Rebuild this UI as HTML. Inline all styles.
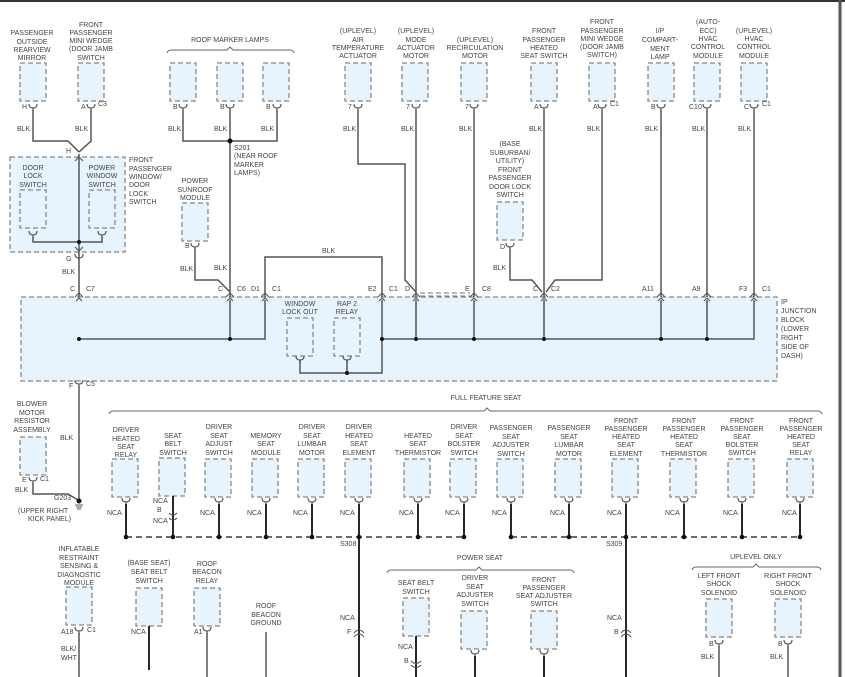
<!DOCTYPE html>
<html><head><meta charset="utf-8"><style>
html,body{margin:0;padding:0;background:#fff;}
svg{display:block;}
text{font-family:"Liberation Sans",sans-serif;font-size:7px;fill:#444;}
.w{stroke:#555;stroke-width:1.5;fill:none;}
.k{stroke:#111;stroke-width:1.8;fill:none;}
.bx{fill:#e8f4fd;stroke:#888;stroke-width:1.3;stroke-dasharray:5 3;}
.br{stroke:#666;stroke-width:1;fill:none;}
</style></head><body>
<svg width="845" height="677" viewBox="0 0 845 677" xmlns="http://www.w3.org/2000/svg">
<defs>
<rect id="b" x="0" y="0" width="26" height="38" class="bx"/>
<path id="pd" d="M-4,-2 Q-4,2 0,2 Q4,2 4,-2 M0,2 V5" stroke="#555" stroke-width="1.2" fill="none"/>
<path id="pu" d="M-4,2 L0,-2 L4,2 M-3,6 L0,3 L3,6" stroke="#555" stroke-width="1.1" fill="none"/>
</defs>
<line x1="0" y1="1" x2="845" y2="1" stroke="#333" stroke-width="2"/>
<line x1="840" y1="0" x2="840" y2="677" stroke="#555" stroke-width="3"/>

<!-- IP junction block -->
<rect x="21" y="297" width="756" height="84" class="bx"/>
<text x="781" y="304">IP</text><text x="781" y="313">JUNCTION</text><text x="781" y="322">BLOCK</text><text x="781" y="331">(LOWER</text><text x="781" y="340">RIGHT</text><text x="781" y="349">SIDE OF</text><text x="781" y="358">DASH)</text>

<!-- top left group -->
<g text-anchor="middle">
<text x="32" y="35">PASSENGER</text><text x="32" y="44">OUTSIDE</text><text x="32" y="52">REARVIEW</text><text x="32" y="60">MIRROR</text>
<text x="91" y="27">FRONT</text><text x="91" y="35">PASSENGER</text><text x="91" y="43">MINI WEDGE</text><text x="91" y="51">(DOOR JAMB</text><text x="91" y="60">SWITCH</text>
</g>
<use href="#b" x="20" y="63"/><use href="#b" x="78" y="63"/>
<use href="#pd" x="33" y="106"/><use href="#pd" x="91" y="106"/>
<text x="22" y="109">H</text><text x="81" y="109">A</text><text x="98" y="106">C3</text>
<path class="w" d="M33,110 V141 H68 L79,152 M91,110 V141 L79,152"/>
<text x="17" y="131">BLK</text><text x="75" y="131">BLK</text>
<text x="66" y="153">H</text>
<rect x="10" y="157" width="115" height="95" class="bx"/>
<text x="129" y="162">FRONT</text><text x="129" y="171">PASSENGER</text><text x="129" y="179">WINDOW/</text><text x="129" y="187">DOOR</text><text x="129" y="196">LOCK</text><text x="129" y="204">SWITCH</text>
<g text-anchor="middle"><text x="33" y="170">DOOR</text><text x="33" y="178">LOCK</text><text x="33" y="187">SWITCH</text>
<text x="102" y="170">POWER</text><text x="102" y="178">WINDOW</text><text x="102" y="187">SWITCH</text></g>
<use href="#b" x="20" y="190"/><use href="#b" x="89" y="190"/>
<use href="#pd" x="33" y="233"/><use href="#pd" x="102" y="233"/>
<path class="w" d="M79,154 V297 M33,237 V242 H102 V237"/>
<path d="M75,161 L79,157 L83,161 M75,247 L79,251 L83,247" stroke="#555" stroke-width="1.1" fill="none"/>
<circle cx="79" cy="242" r="2" fill="#111"/>
<use href="#pd" x="79" y="256"/>
<text x="66" y="261">G</text><text x="62" y="274">BLK</text><text x="70" y="291">C</text><text x="86" y="291">C7</text>
<use href="#pu" x="79" y="295"/>

<!-- roof marker -->
<text x="230" y="42" text-anchor="middle">ROOF MARKER LAMPS</text>
<path class="br" d="M167,53 Q168,50 171,50 H227 L230,47 L233,50 H290 Q293,50 294,53"/>
<use href="#b" x="170" y="63"/><use href="#b" x="217" y="63"/><use href="#b" x="263" y="63"/>
<use href="#pd" x="183" y="106"/><use href="#pd" x="230" y="106"/><use href="#pd" x="277" y="106"/>
<text x="173" y="109">B</text><text x="220" y="109">B</text><text x="266" y="109">B</text>
<path class="w" d="M183,110 V141 H277 V110 M230,110 V297"/>
<circle cx="230" cy="141" r="2.5" fill="#111"/>
<text x="168" y="131">BLK</text><text x="214" y="131">BLK</text><text x="261" y="131">BLK</text>
<text x="234" y="150">S201</text><text x="234" y="158">(NEAR ROOF</text><text x="234" y="167">MARKER</text><text x="234" y="175">LAMPS)</text>
<g text-anchor="middle"><text x="195" y="183">POWER</text><text x="195" y="192">SUNROOF</text><text x="195" y="200">MODULE</text></g>
<use href="#b" x="182" y="203"/><use href="#pd" x="195" y="245"/>
<text x="185" y="248">B</text>
<path class="w" d="M195,249 V280 H218 L230,292"/>
<text x="180" y="271">BLK</text><text x="214" y="270">BLK</text>
<text x="218" y="291">C</text><text x="237" y="291">C6</text>
<use href="#pu" x="230" y="295"/>
<path class="w" d="M265,297 V257 H382 V297"/>
<text x="322" y="253">BLK</text>
<text x="251" y="291">D1</text><text x="272" y="291">C1</text><text x="368" y="291">E2</text><text x="389" y="291">C1</text>
<use href="#pu" x="265" y="295"/><use href="#pu" x="382" y="295"/>

<!-- top middle/right -->
<g text-anchor="middle">
<text x="358" y="33">(UPLEVEL)</text><text x="358" y="42">AIR</text><text x="358" y="50">TEMPERATURE</text><text x="358" y="58">ACTUATOR</text>
<text x="416" y="33">(UPLEVEL)</text><text x="416" y="42">MODE</text><text x="416" y="50">ACTUATOR</text><text x="416" y="58">MOTOR</text>
<text x="475" y="42">(UPLEVEL)</text><text x="475" y="50">RECIRCULATION</text><text x="475" y="58">MOTOR</text>
<text x="544" y="33">FRONT</text><text x="544" y="42">PASSENGER</text><text x="544" y="50">HEATED</text><text x="544" y="58">SEAT SWITCH</text>
<text x="602" y="24">FRONT</text><text x="602" y="33">PASSENGER</text><text x="602" y="41">MINI WEDGE</text><text x="602" y="49">(DOOR JAMB</text><text x="602" y="57">SWITCH)</text>
<text x="660" y="33">I/P</text><text x="660" y="42">COMPART-</text><text x="660" y="51">MENT</text><text x="660" y="59">LAMP</text>
<text x="708" y="24">(AUTO-</text><text x="708" y="33">ECC)</text><text x="708" y="41">HVAC</text><text x="708" y="49">CONTROL</text><text x="708" y="58">MODULE</text>
<text x="754" y="33">(UPLEVEL)</text><text x="754" y="41">HVAC</text><text x="754" y="49">CONTROL</text><text x="754" y="58">MODULE</text>
<text x="510" y="146">(BASE</text><text x="510" y="155">SUBURBAN/</text><text x="510" y="163">UTILITY)</text><text x="510" y="172">FRONT</text><text x="510" y="180">PASSENGER</text><text x="510" y="189">DOOR LOCK</text><text x="510" y="197">SWITCH</text>
</g>
<use href="#b" x="345" y="63"/><use href="#b" x="402" y="63"/><use href="#b" x="461" y="63"/><use href="#b" x="531" y="63"/><use href="#b" x="589" y="63"/><use href="#b" x="648" y="63"/><use href="#b" x="694" y="63"/><use href="#b" x="741" y="63"/>
<use href="#b" x="497" y="202"/>
<use href="#pd" x="358" y="106"/><use href="#pd" x="416" y="106"/><use href="#pd" x="474" y="106"/><use href="#pd" x="544" y="106"/><use href="#pd" x="602" y="106"/><use href="#pd" x="661" y="106"/><use href="#pd" x="707" y="106"/><use href="#pd" x="754" y="106"/><use href="#pd" x="510" y="245"/>
<text x="348" y="109">7</text><text x="406" y="109">7</text><text x="465" y="109">7</text><text x="534" y="109">A</text><text x="593" y="109">A</text><text x="610" y="106">C1</text><text x="651" y="109">B</text><text x="689" y="109">C10</text><text x="744" y="109">C</text><text x="762" y="106">C1</text><text x="500" y="249">D</text>
<path class="w" d="M358,110 V164 H405 V280 L416,292 M416,110 V297 M474,110 V297 M544,110 V297 M602,110 V280 H555 L546,292 M510,249 V280 H532 L542,292 M661,110 V297 M707,110 V297 M754,110 V297"/>
<g><text x="343" y="131">BLK</text><text x="401" y="131">BLK</text><text x="459" y="131">BLK</text><text x="529" y="131">BLK</text><text x="587" y="131">BLK</text><text x="645" y="131">BLK</text><text x="692" y="131">BLK</text><text x="738" y="131">BLK</text><text x="493" y="270">BLK</text></g>
<text x="405" y="291">D</text><text x="465" y="291">E</text><text x="482" y="291">C8</text><text x="533" y="291">C</text><text x="551" y="291">C2</text><text x="642" y="291">A11</text><text x="692" y="291">A9</text><text x="739" y="291">F3</text><text x="762" y="291">C1</text>
<path d="M420,293 H470 M420,296 H470" stroke="#777" stroke-width="1" stroke-dasharray="5 3"/>
<g><use href="#pu" x="416" y="295"/><use href="#pu" x="474" y="295"/><use href="#pu" x="544" y="295"/><use href="#pu" x="661" y="295"/><use href="#pu" x="707" y="295"/><use href="#pu" x="754" y="295"/></g>

<!-- inside IP -->
<path class="w" d="M79,339 H265 V300 M230,300 V339 M382,339 H754 V300 M416,300 V339 M474,300 V339 M544,300 V339 M661,300 V339 M707,300 V339 M300,360 V373 H382 V300 M347,360 V373"/>
<g fill="#111"><circle cx="79" cy="339" r="2"/><circle cx="230" cy="339" r="2"/><circle cx="382" cy="339" r="2"/><circle cx="416" cy="339" r="2"/><circle cx="474" cy="339" r="2"/><circle cx="544" cy="339" r="2"/><circle cx="661" cy="339" r="2"/><circle cx="707" cy="339" r="2"/><circle cx="347" cy="373" r="2"/></g>
<g text-anchor="middle"><text x="300" y="306">WINDOW</text><text x="300" y="314">LOCK OUT</text><text x="347" y="306">RAP 2</text><text x="347" y="314">RELAY</text></g>
<use href="#b" x="287" y="318"/><use href="#b" x="334" y="318"/>
<use href="#pd" x="300" y="358"/><use href="#pd" x="347" y="358"/>

<!-- left lower -->
<use href="#pd" x="79" y="382"/>
<text x="69" y="388">F</text><text x="86" y="386">C5</text>
<path class="w" d="M79,386 V500"/>
<g text-anchor="middle"><text x="32" y="406">BLOWER</text><text x="32" y="415">MOTOR</text><text x="32" y="423">RESISTOR</text><text x="32" y="432">ASSEMBLY</text></g>
<text x="60" y="440">BLK</text>
<use href="#b" x="20" y="437"/><use href="#pd" x="33" y="479"/>
<text x="22" y="482">E</text><text x="40" y="481">C1</text>
<path class="w" d="M33,483 V494 H68 L78,500"/>
<text x="15" y="492">BLK</text>
<circle cx="79" cy="501" r="2.5" fill="#111"/>
<path d="M75,505 H83 M76,507 H82 M77,509 H81" stroke="#555" stroke-width="1"/>
<text x="54" y="500">G203</text><text x="18" y="513">(UPPER RIGHT</text><text x="28" y="521">KICK PANEL)</text>

<!-- full feature seat -->
<text x="486" y="400" text-anchor="middle">FULL FEATURE SEAT</text>
<path class="br" d="M109,414 Q110,411 113,411 H484 L487,408 L490,411 H818 Q821,411 822,414"/>
<g text-anchor="middle">
<text x="126" y="432">DRIVER</text><text x="126" y="441">HEATED</text><text x="126" y="449">SEAT</text><text x="126" y="457">RELAY</text>
<text x="173" y="438">SEAT</text><text x="173" y="446">BELT</text><text x="173" y="455">SWITCH</text>
<text x="219" y="429">DRIVER</text><text x="219" y="438">SEAT</text><text x="219" y="446">ADJUST</text><text x="219" y="455">SWITCH</text>
<text x="266" y="438">MEMORY</text><text x="266" y="446">SEAT</text><text x="266" y="455">MODULE</text>
<text x="312" y="429">DRIVER</text><text x="312" y="438">SEAT</text><text x="312" y="446">LUMBAR</text><text x="312" y="455">MOTOR</text>
<text x="359" y="429">DRIVER</text><text x="359" y="438">HEATED</text><text x="359" y="446">SEAT</text><text x="359" y="455">ELEMENT</text>
<text x="418" y="438">HEATED</text><text x="418" y="446">SEAT</text><text x="418" y="455">THERMISTOR</text>
<text x="464" y="429">DRIVER</text><text x="464" y="438">SEAT</text><text x="464" y="446">BOLSTER</text><text x="464" y="455">SWITCH</text>
<text x="511" y="430">PASSENGER</text><text x="511" y="439">SEAT</text><text x="511" y="447">ADJUSTER</text><text x="511" y="456">SWITCH</text>
<text x="569" y="430">PASSENGER</text><text x="569" y="439">SEAT</text><text x="569" y="447">LUMBAR</text><text x="569" y="456">MOTOR</text>
<text x="626" y="423">FRONT</text><text x="626" y="431">PASSENGER</text><text x="626" y="439">HEATED</text><text x="626" y="447">SEAT</text><text x="626" y="456">ELEMENT</text>
<text x="684" y="423">FRONT</text><text x="684" y="431">PASSENGER</text><text x="684" y="439">HEATED</text><text x="684" y="447">SEAT</text><text x="684" y="456">THERMISTOR</text>
<text x="742" y="423">FRONT</text><text x="742" y="431">PASSENGER</text><text x="742" y="439">SEAT</text><text x="742" y="447">BOLSTER</text><text x="742" y="455">SWITCH</text>
<text x="801" y="423">FRONT</text><text x="801" y="431">PASSENGER</text><text x="801" y="439">HEATED</text><text x="801" y="447">SEAT</text><text x="801" y="455">RELAY</text>
</g>
<g>
<use href="#b" x="112" y="459"/><use href="#b" x="159" y="458"/><use href="#b" x="205" y="459"/><use href="#b" x="252" y="459"/><use href="#b" x="298" y="459"/><use href="#b" x="345" y="459"/><use href="#b" x="404" y="459"/><use href="#b" x="450" y="459"/><use href="#b" x="497" y="459"/><use href="#b" x="555" y="459"/><use href="#b" x="612" y="459"/><use href="#b" x="670" y="459"/><use href="#b" x="728" y="459"/><use href="#b" x="787" y="459"/>
</g>
<g><use href="#pd" x="126" y="500"/><use href="#pd" x="219" y="500"/><use href="#pd" x="266" y="500"/><use href="#pd" x="312" y="500"/><use href="#pd" x="359" y="500"/><use href="#pd" x="418" y="500"/><use href="#pd" x="464" y="500"/><use href="#pd" x="511" y="500"/><use href="#pd" x="569" y="500"/><use href="#pd" x="626" y="500"/><use href="#pd" x="684" y="500"/><use href="#pd" x="742" y="500"/><use href="#pd" x="800" y="500"/></g>
<path class="k" d="M126,504 V537 M173,496 V537 M219,504 V537 M266,504 V537 M312,504 V537 M359,504 V537 M418,504 V537 M464,504 V537 M511,504 V537 M569,504 V537 M626,504 V537 M684,504 V537 M742,504 V537 M800,504 V537"/>
<path d="M169,513 Q173,517 177,513 M169,518 Q173,522 177,518" stroke="#555" fill="none" stroke-width="1"/>
<path d="M126,537 H464 M511,537 H800" stroke="#111" stroke-width="1.3" stroke-dasharray="6 4"/>
<g fill="#111"><circle cx="126" cy="537" r="2.3"/><circle cx="173" cy="537" r="2.3"/><circle cx="219" cy="537" r="2.3"/><circle cx="266" cy="537" r="2.3"/><circle cx="312" cy="537" r="2.3"/><circle cx="359" cy="537" r="2.3"/><circle cx="418" cy="537" r="2.3"/><circle cx="464" cy="537" r="2.3"/><circle cx="511" cy="537" r="2.3"/><circle cx="569" cy="537" r="2.3"/><circle cx="626" cy="537" r="2.3"/><circle cx="684" cy="537" r="2.3"/><circle cx="742" cy="537" r="2.3"/><circle cx="800" cy="537" r="2.3"/></g>
<g><text x="107" y="515">NCA</text><text x="153" y="503">NCA</text><text x="157" y="512">B</text><text x="153" y="523">NCA</text><text x="200" y="515">NCA</text><text x="247" y="515">NCA</text><text x="293" y="515">NCA</text><text x="340" y="515">NCA</text><text x="399" y="515">NCA</text><text x="445" y="515">NCA</text><text x="492" y="515">NCA</text><text x="550" y="515">NCA</text><text x="607" y="515">NCA</text><text x="665" y="515">NCA</text><text x="723" y="515">NCA</text><text x="782" y="515">NCA</text></g>
<text x="340" y="546">S308</text><text x="606" y="546">S309</text>
<path class="k" d="M359,537 V677 M626,537 V677"/>
<text x="340" y="620">NCA</text><text x="347" y="634">F</text>
<text x="607" y="620">NCA</text><text x="614" y="634">B</text>
<path d="M354,633 Q359,627 364,633 M354,637 Q359,631 364,637 M621,633 Q626,627 631,633 M621,637 Q626,631 631,637" stroke="#555" fill="none" stroke-width="1"/>

<!-- bottom left -->
<g text-anchor="middle">
<text x="79" y="551">INFLATABLE</text><text x="79" y="560">RESTRAINT</text><text x="79" y="568">SENSING &amp;</text><text x="79" y="577">DIAGNOSTIC</text><text x="79" y="585">MODULE</text>
<text x="149" y="565">(BASE SEAT)</text><text x="149" y="574">SEAT BELT</text><text x="149" y="583">SWITCH</text>
<text x="207" y="566">ROOF</text><text x="207" y="574">BEACON</text><text x="207" y="583">RELAY</text>
<text x="266" y="608">ROOF</text><text x="266" y="617">BEACON</text><text x="266" y="625">GROUND</text>
</g>
<use href="#b" x="66" y="587"/><use href="#b" x="136" y="588"/><use href="#b" x="194" y="588"/>
<use href="#pd" x="79" y="629"/><use href="#pd" x="207" y="629"/>
<text x="61" y="634">A18</text><text x="87" y="632">C1</text><text x="194" y="634">A1</text>
<path class="w" d="M79,633 V677 M207,633 V677 M266,632 V677"/>
<path class="k" d="M149,626 V670"/>
<text x="61" y="651">BLK/</text><text x="61" y="660">WHT</text>
<text x="131" y="634">NCA</text>

<!-- power seat -->
<text x="480" y="560" text-anchor="middle">POWER SEAT</text>
<path class="br" d="M387,573 Q388,570 391,570 H476 L479,567 L482,570 H570 Q573,570 574,573"/>
<g text-anchor="middle">
<text x="416" y="585">SEAT BELT</text><text x="416" y="594">SWITCH</text>
<text x="475" y="580">DRIVER</text><text x="475" y="589">SEAT</text><text x="475" y="597">ADJUSTER</text><text x="475" y="606">SWITCH</text>
<text x="544" y="582">FRONT</text><text x="544" y="590">PASSENGER</text><text x="544" y="598">SEAT ADJUSTER</text><text x="544" y="606">SWITCH</text>
</g>
<use href="#b" x="403" y="598"/><use href="#b" x="461" y="611"/><use href="#b" x="531" y="611"/>
<use href="#pd" x="475" y="652"/><use href="#pd" x="544" y="652"/>
<path class="k" d="M416,636 V677 M475,656 V677 M544,656 V677"/>
<text x="398" y="649">NCA</text><text x="404" y="663">B</text>
<path d="M411,661 Q416,666 421,661 M411,665 Q416,670 421,665" stroke="#555" fill="none" stroke-width="1"/>

<!-- uplevel only -->
<text x="756" y="559" text-anchor="middle">UPLEVEL ONLY</text>
<path class="br" d="M692,570 Q693,567 696,567 H753 L756,564 L759,567 H817 Q820,567 821,570"/>
<g text-anchor="middle">
<text x="719" y="578">LEFT FRONT</text><text x="719" y="586">SHOCK</text><text x="719" y="595">SOLENOID</text>
<text x="788" y="578">RIGHT FRONT</text><text x="788" y="586">SHOCK</text><text x="788" y="595">SOLENOID</text>
</g>
<use href="#b" x="706" y="599"/><use href="#b" x="775" y="599"/>
<use href="#pd" x="719" y="642"/><use href="#pd" x="788" y="642"/>
<text x="709" y="646">B</text><text x="778" y="646">B</text>
<path class="w" d="M719,646 V677 M788,646 V677"/>
<text x="701" y="659">BLK</text><text x="770" y="659">BLK</text>
</svg>
</body></html>
